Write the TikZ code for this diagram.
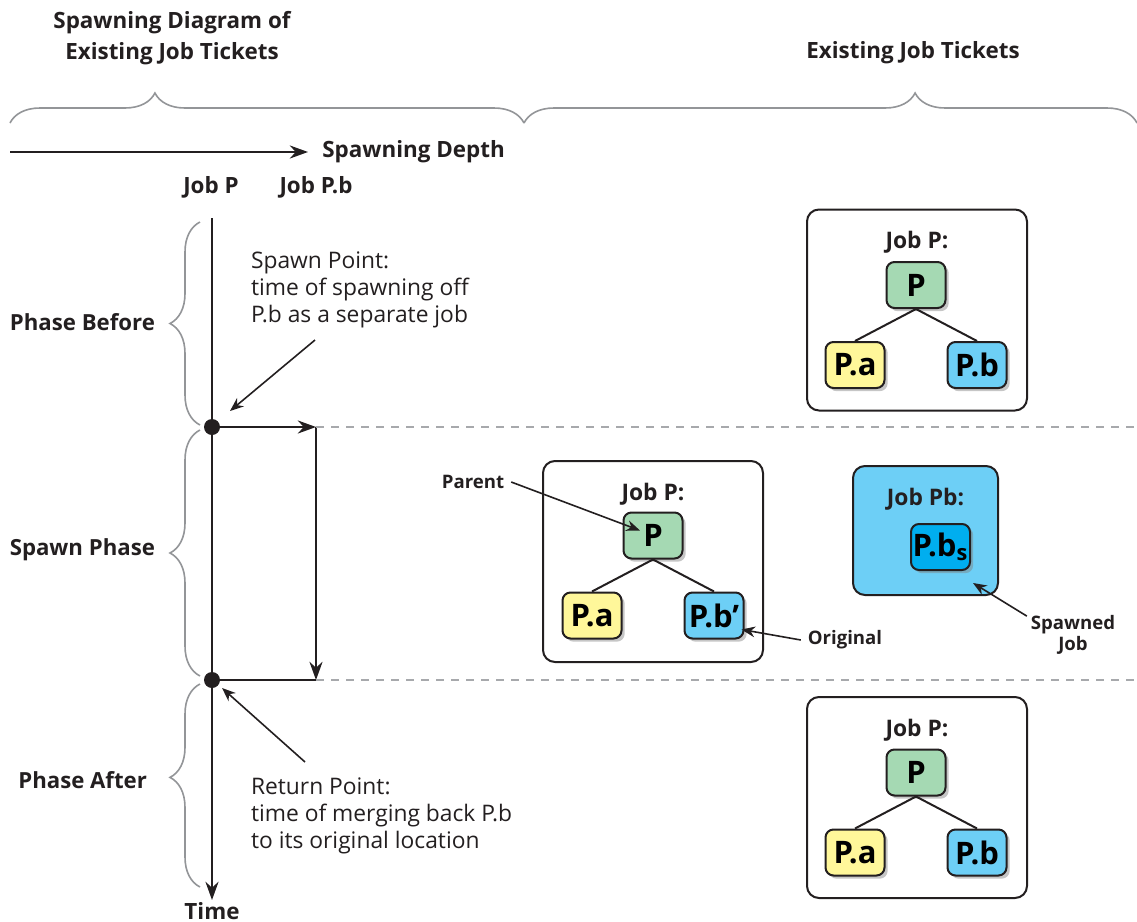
\documentclass[tikz,border=0pt]{standalone}
\usepackage{fontspec}
\setmainfont{Open Sans}
\usepackage{tikz}
\usetikzlibrary{arrows.meta,positioning,calc,shadows,decorations.pathreplacing}
\definecolor{ink}{HTML}{231F20}
\definecolor{bracegray}{HTML}{939598}
\definecolor{dashgray}{HTML}{A7A9AC}
\definecolor{parentgreen}{HTML}{A5D9B3}
\definecolor{childyellow}{HTML}{FFF79A}
\definecolor{childblue}{HTML}{6DCFF6}
\definecolor{spawnblue}{HTML}{00AEEF}
\tikzset{
  >={Stealth[length=3.2mm,width=2.3mm]},
  ticket/.style={draw=ink,line width=1pt,rounded corners=6pt,minimum width=110pt,minimum height=100.5pt},
  spawnticket/.style={ticket,fill=childblue,minimum width=72.5pt,minimum height=64.5pt},
  jobnode/.style={draw=ink,line width=1pt,rounded corners=4pt,minimum width=29.5pt,minimum height=23pt,inner sep=0pt,font=\fontsize{15.5}{18}\selectfont\bfseries,text=black,drop shadow={shadow xshift=1.6pt,shadow yshift=-1.6pt,opacity=0.45}},
  tickettitle/.style={font=\fontsize{11.4}{13}\selectfont\bfseries,text=ink},
  heading/.style={font=\fontsize{11.2}{15.5}\selectfont\bfseries,text=ink,align=center},
  phaselabel/.style={font=\fontsize{11.1}{13}\selectfont\bfseries,text=ink},
  note/.style={font=\fontsize{11.4}{13.5}\selectfont,text=ink,align=left},
  callout/.style={font=\fontsize{9.3}{10.8}\selectfont\bfseries,text=ink,align=center},
  branch/.style={draw=ink,line width=1pt},
  flow/.style={->,draw=ink,line width=1pt},
  pointer/.style={-{Stealth[length=2.4mm,width=1.9mm]},draw=ink,line width=0.8pt},
  phasebrace/.style={draw=bracegray,line width=0.8pt,decorate,decoration={brace,amplitude=15pt,aspect=#1}},
  phasebrace/.default=0.5,
  divider/.style={draw=dashgray,line width=1pt,dash pattern=on 4pt off 3.5pt},
  dot/.style={circle,fill=ink,inner sep=0pt,minimum size=8pt}
}
\begin{document}
\begin{tikzpicture}[x=0.5pt,y=-0.5pt]
  \useasboundingbox (0,0) rectangle (1137,922);
  \node[heading] (diagtitle) at (172,38) {Spawning Diagram of\\Existing Job Tickets};
  \node[heading] (tktitle) at (913,53) {Existing Job Tickets};
  \coordinate (b0) at (10,123);
  \coordinate (b1) at (524,123);
  \coordinate (b2) at (1137,123);
  \coordinate (depth0) at (10,152);
  \node[heading,anchor=west,inner xsep=7pt] (depth) at (308,152) {Spawning Depth};
  \node[heading] (colp) at (211,187) {Job P};
  \node[heading] (colpb) at (316,187) {Job P.b};

  \coordinate (t0) at (212,218);
  \node[heading,inner sep=1pt] (time) at (212,911) {Time};
  \node[dot] (spawn) at (212,427) {};
  \node[dot] (return) at (212,680) {};
  \coordinate (fork) at (316,427);
  \coordinate (join) at (316,680);
  \coordinate (edge1) at (1137,427);
  \coordinate (edge2) at (1137,680);

  \coordinate (pb0) at (200,222);
  \coordinate (pb1) at (200,425);
  \coordinate (pb2) at (200,430);
  \coordinate (pb3) at (200,676);
  \coordinate (pb4) at (200,684);
  \coordinate (pb5) at (200,887);
  \node[phaselabel,anchor=east] (before) at (162,322) {Phase Before};
  \node[phaselabel,anchor=east] (during) at (162,550) {Spawn Phase};
  \node[phaselabel,anchor=east] (after) at (154,780) {Phase After};

  \node[note,anchor=north west] (spawnnote) at (244,245) {Spawn Point:\\time of spawning off\\P.b as a separate job};
  \node[note,anchor=north west] (returnnote) at (244,771) {Return Point:\\time of merging back P.b\\to its original location};

  \node[ticket] (tkbefore) at (917,310) {};
  \node[tickettitle,below=8pt of tkbefore.north] {Job P:};
  \node[jobnode,fill=parentgreen] (pbefore) at ($(tkbefore.center)+(-1,-25)$) {P};
  \node[jobnode,fill=childyellow,below left=16pt and 0pt of pbefore] (pabefore) {P.a};
  \node[jobnode,fill=childblue,below right=16pt and 0pt of pbefore] (pbbefore) {P.b};

  \node[ticket] (tkduring) at (653,561.5) {};
  \node[tickettitle,below=8pt of tkduring.north] {Job P:};
  \node[jobnode,fill=parentgreen] (pduring) at ($(tkduring.center)+(0,-26)$) {P};
  \node[jobnode,fill=childyellow,below left=16pt and 0pt of pduring] (paduring) {P.a};
  \node[jobnode,fill=childblue,below right=16pt and 0pt of pduring] (pbduring) {P.b’};

  \node[spawnticket] (tkspawn) at (925.5,530.5) {};
  \node[tickettitle,below=8pt of tkspawn.north] {Job Pb:};
  \node[jobnode,fill=spawnblue] (pbspawn) at (940.5,547) {P.b\textsubscript{s}};

  \node[ticket] (tkafter) at (917,797.5) {};
  \node[tickettitle,below=8pt of tkafter.north] {Job P:};
  \node[jobnode,fill=parentgreen] (pafter) at ($(tkafter.center)+(-1,-25)$) {P};
  \node[jobnode,fill=childyellow,below left=16pt and 0pt of pafter] (paafter) {P.a};
  \node[jobnode,fill=childblue,below right=16pt and 0pt of pafter] (pbafter) {P.b};

  \node[callout] (parent) at (473,482) {Parent};
  \node[callout] (original) at (845,640) {Original};
  \node[callout] (spawned) at (1073,635) {Spawned\\Job};

  \draw[phasebrace=0.282] (b0) -- (b1);
  \draw[phasebrace=0.638] (b1) -- (b2);
  \draw[phasebrace] (pb1) -- (pb0);
  \draw[phasebrace] (pb3) -- (pb2);
  \draw[phasebrace=0.54] (pb5) -- (pb4);
  \draw[flow] (depth0) -- (depth);
  \draw[flow] (t0) -- (time);
  \draw[flow] (spawn) -- (fork);
  \draw[flow] (fork) -- (join);
  \draw[branch] (return) -- (join);
  \draw[divider] (fork) -- (edge1);
  \draw[divider] (join) -- (edge2);
  \draw[pointer] ($(spawn)+(103,-87)$) -- ($(spawn)+(18,-16)$);
  \draw[pointer] ($(return)+(93,82)$) -- ($(return)+(10,8)$);

  \draw[branch] (pbefore.south) -- (pabefore.north);
  \draw[branch] (pbefore.south) -- (pbbefore.north);
  \draw[branch] (pduring.south) -- (paduring.north);
  \draw[branch] (pduring.south) -- (pbduring.north);
  \draw[branch] (pafter.south) -- (paafter.north);
  \draw[branch] (pafter.south) -- (pbafter.north);

  \draw[pointer] (parent.east) -- ($(pduring.center)+(-13,-5)$);
  \draw[pointer] (original.west) -- ($(pbduring.south east)+(-3,-10)$);
  \draw[pointer] ($(spawned.north west)+(3,8)$) -- ($(tkspawn.south east)+(-26,-13)$);
\end{tikzpicture}
\end{document}
